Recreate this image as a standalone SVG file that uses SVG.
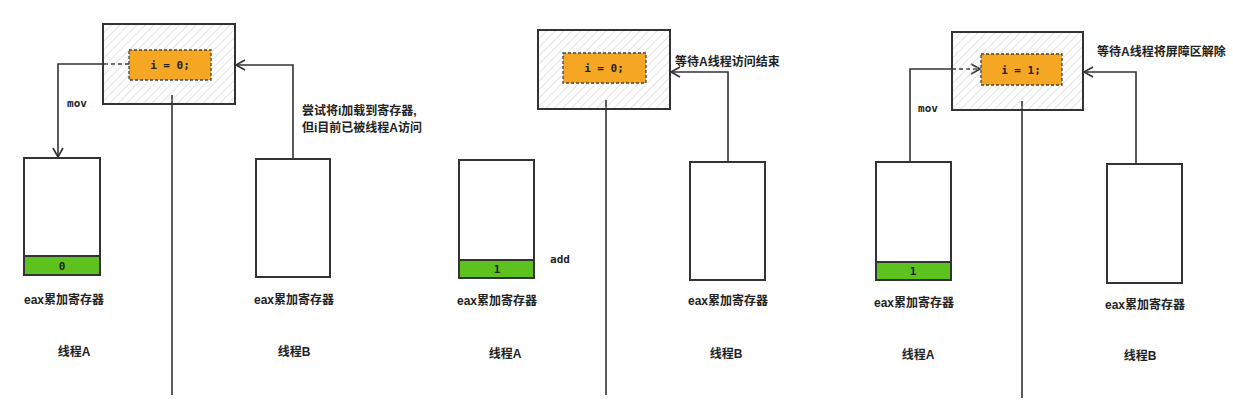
<svg xmlns="http://www.w3.org/2000/svg" width="1233" height="400" viewBox="0 0 1233 400">
<defs>
<pattern id="hatch" patternUnits="userSpaceOnUse" width="6" height="6" patternTransform="rotate(45)">
<line x1="0" y1="0" x2="0" y2="6" stroke="#c8c8c8" stroke-width="1"/>
</pattern>
<marker id="arr" markerWidth="12" markerHeight="12" refX="10" refY="6" orient="auto" markerUnits="userSpaceOnUse">
<path d="M1,1 L10,6 L1,11" fill="none" stroke="#333" stroke-width="1.6"/>
</marker>
<style>
.box{fill:url(#hatch);stroke:#333;stroke-width:2}
.code{fill:#f5a623;stroke:#444;stroke-width:1.3;stroke-dasharray:3 2}
.reg{fill:#fff;stroke:#333;stroke-width:2}
.band{fill:#5ec21e;stroke:#333;stroke-width:2}
.ln{fill:none;stroke:#333;stroke-width:1.6}
.dl{fill:none;stroke:#333;stroke-width:1.6;stroke-dasharray:4 3}
.mono{font-family:"DejaVu Sans Mono","Liberation Mono",monospace;font-size:11px;font-weight:bold;fill:#222}
.cn{font-family:"Liberation Sans","Noto Sans CJK SC",sans-serif;font-size:12px;font-weight:bold;fill:#222}
</style>
</defs>
<rect width="1233" height="400" fill="#fff"/>

<g id="connectors">
<line class="ln" x1="172" y1="95" x2="172" y2="395"/>
<path class="dl" d="M129,64 L103,64"/>
<path class="ln" d="M103,64 L58,64 L58,157" marker-end="url(#arr)"/>
<path class="ln" d="M293,159 L293,65 L236,65" marker-end="url(#arr)"/>

<line class="ln" x1="606" y1="100" x2="606" y2="395"/>
<path class="ln" d="M728,162 L728,72 L671,72" marker-end="url(#arr)"/>

<line class="ln" x1="1022" y1="101" x2="1022" y2="398"/>
<path class="ln" d="M910,162 L910,69 L952,69"/>
<path class="dl" d="M952,69 L980,69" marker-end="url(#arr)"/>
<path class="ln" d="M1136,164 L1136,72 L1084,72" marker-end="url(#arr)"/>
</g>

<g id="p1-lock">
<rect class="box" x="103" y="24" width="132" height="80"/>
<rect class="code" x="129" y="50" width="82" height="30"/>
<text class="mono" x="170" y="69" text-anchor="middle">i = 0;</text>
</g>
<g id="p1-regA">
<rect class="reg" x="24" y="158" width="76" height="117"/>
<rect class="band" x="24" y="256" width="76" height="19"/>
<text class="mono" x="62" y="270" text-anchor="middle">0</text>
<text class="cn" x="64" y="304" text-anchor="middle">eax累加寄存器</text>
<text class="cn" x="74" y="356" text-anchor="middle">线程A</text>
</g>
<g id="p1-regB">
<rect class="reg" x="256" y="159" width="74" height="118"/>
<text class="cn" x="294" y="304" text-anchor="middle">eax累加寄存器</text>
<text class="cn" x="294" y="356" text-anchor="middle">线程B</text>
</g>
<g id="p1-labels">
<text class="mono" x="77" y="107" text-anchor="middle">mov</text>
<text class="cn" x="302" y="115">尝试将i加载到寄存器,</text>
<text class="cn" x="302" y="132">但i目前已被线程A访问</text>
</g>

<g id="p2-lock">
<rect class="box" x="538" y="30" width="132" height="79"/>
<rect class="code" x="563" y="53" width="83" height="30"/>
<text class="mono" x="604" y="72" text-anchor="middle">i = 0;</text>
</g>
<g id="p2-regA">
<rect class="reg" x="459" y="160" width="75" height="118"/>
<rect class="band" x="459" y="260" width="75" height="18"/>
<text class="mono" x="497" y="273" text-anchor="middle">1</text>
<text class="cn" x="497" y="305" text-anchor="middle">eax累加寄存器</text>
<text class="cn" x="505" y="358" text-anchor="middle">线程A</text>
</g>
<g id="p2-regB">
<rect class="reg" x="690" y="162" width="75" height="118"/>
<text class="cn" x="728" y="305" text-anchor="middle">eax累加寄存器</text>
<text class="cn" x="726" y="358" text-anchor="middle">线程B</text>
</g>
<g id="p2-labels">
<text class="mono" x="560" y="263" text-anchor="middle">add</text>
<text class="cn" x="675" y="66">等待A线程访问结束</text>
</g>

<g id="p3-lock">
<rect class="box" x="952" y="32" width="131" height="78"/>
<rect class="code" x="981" y="54" width="81" height="31"/>
<text class="mono" x="1021" y="74" text-anchor="middle">i = 1;</text>
</g>
<g id="p3-regA">
<rect class="reg" x="876" y="162" width="75" height="118"/>
<rect class="band" x="876" y="262" width="75" height="18"/>
<text class="mono" x="913" y="275" text-anchor="middle">1</text>
<text class="cn" x="914" y="307" text-anchor="middle">eax累加寄存器</text>
<text class="cn" x="918" y="359" text-anchor="middle">线程A</text>
</g>
<g id="p3-regB">
<rect class="reg" x="1107" y="164" width="75" height="119"/>
<text class="cn" x="1145" y="309" text-anchor="middle">eax累加寄存器</text>
<text class="cn" x="1140" y="360" text-anchor="middle">线程B</text>
</g>
<g id="p3-labels">
<text class="mono" x="928" y="112" text-anchor="middle">mov</text>
<text class="cn" x="1097" y="56">等待A线程将屏障区解除</text>
</g>
</svg>
